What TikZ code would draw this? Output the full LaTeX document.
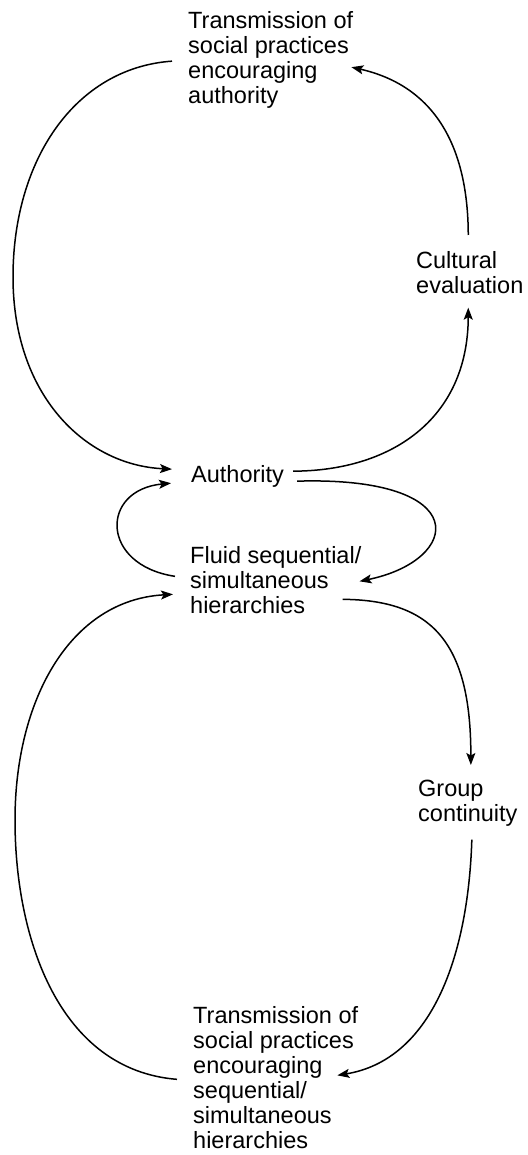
\documentclass[tikz,border=0pt]{standalone}
\usepackage{fontspec}
\setmainfont{Liberation Sans}
\usetikzlibrary{arrows.meta, calc}
\tikzset{
  lbl/.style={align=left, inner sep=0pt, anchor=north west, font=\fontsize{23.5}{25}\selectfont},
  link/.style={line width=1.5pt, -{Stealth[length=12pt, width=9pt, inset=2.5pt]}},
}

\begin{document}
\begin{tikzpicture}[x=1pt, y=-1pt]
  \useasboundingbox (0,0) rectangle (527,1155);
  % labels
  \node[lbl] (ttop) at (188,11) {Transmission of\\social practices\\encouraging\\authority};
  \node[lbl] (cult) at (416,251) {Cultural\\evaluation};
  \node[lbl] (auth) at (191,465) {Authority};
  \node[lbl] (fluid) at (190,546) {Fluid sequential/\\simultaneous\\hierarchies};
  \node[lbl] (grp) at (418,780) {Group\\continuity};
  \node[lbl] (tbot) at (193,1006) {Transmission of\\social practices\\encouraging\\sequential/\\simultaneous\\hierarchies};
  % upper loop
  \draw[link] ($(auth.east)+(9,-5)$) .. controls (390,471) and (468,420) .. ($(cult.south)+(-1.5,14)$);
  \draw[link] ($(cult.north)+(-1.5,-16)$) .. controls (468,140) and (430,85) .. ($(ttop.east)+(-2,7.5)$);
  \draw[link] ($(ttop.west)+(-16,1.5)$) .. controls (75,68) and (13,160) .. (13,277)
    .. controls (13,395) and (85,465) .. ($(auth.west)+(-19,-7)$);
  % small loop
  \draw[link] ($(auth.east)+(13,5)$) .. controls (475,476) and (462,560) .. ($(fluid.east)+(-2,1.5)$);
  \draw[link] ($(fluid.west)+(-15,-3.5)$) .. controls (100,565) and (100,490) .. ($(auth.west)+(-20,7)$);
  % lower loop
  \draw[link] ($(fluid.east)+(-19,19.5)$) .. controls (430,600) and (471,640) .. ($(grp.north)+(3,-15)$);
  \draw[link] ($(grp.south)+(4,13)$) .. controls (468,960) and (430,1060) .. ($(tbot.east)+(-21,-2)$);
  \draw[link] ($(tbot.west)+(-16,2)$) .. controls (60,1070) and (15,940) .. (15,820)
    .. controls (15,700) and (70,600) .. ($(fluid.west)+(-17,14.5)$);
\end{tikzpicture}
\end{document}
